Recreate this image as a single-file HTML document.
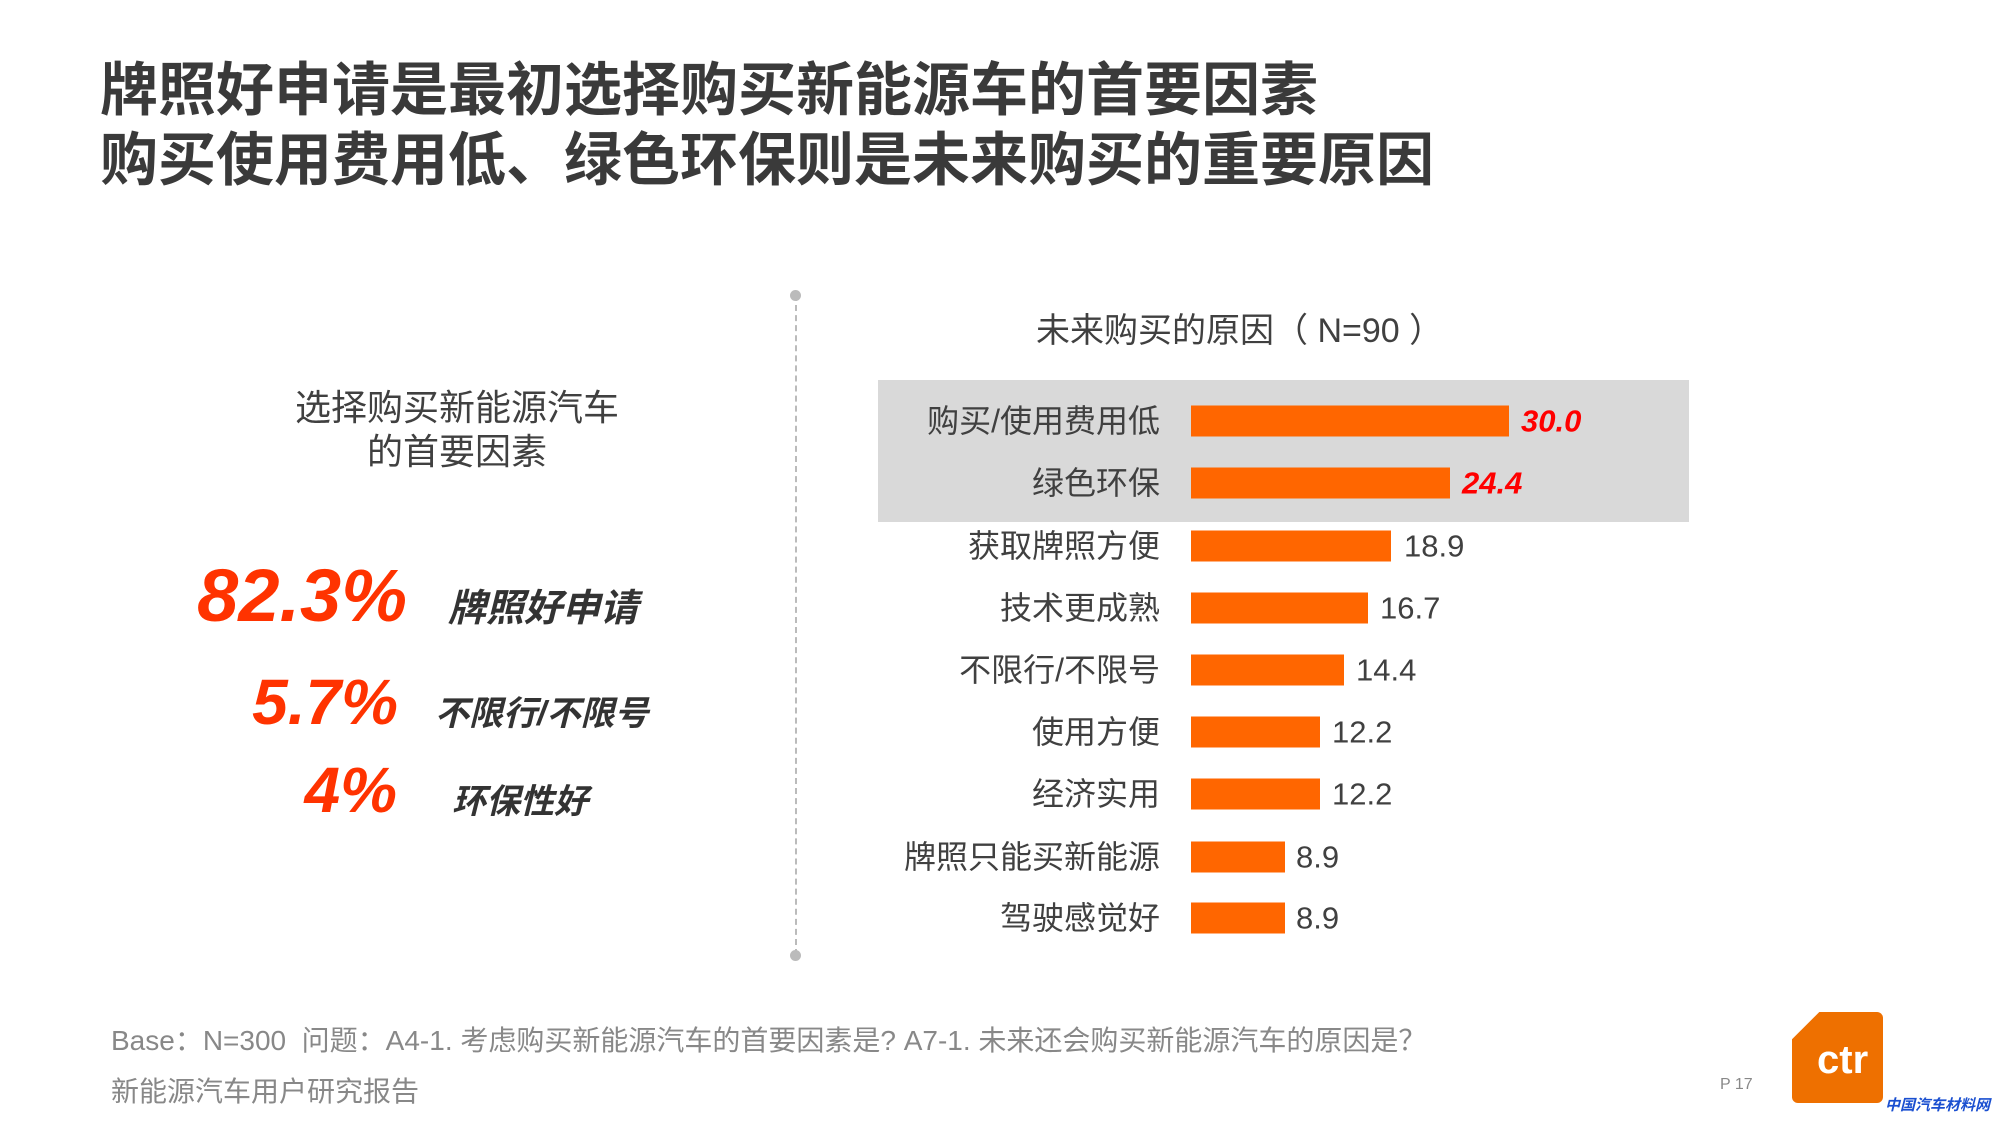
<!DOCTYPE html>
<html><head><meta charset="utf-8"><style>
body{margin:0;width:2000px;height:1125px;background:#fff;position:relative;overflow:hidden;font-family:"Liberation Sans","Noto Sans CJK SC",sans-serif;}
.a{position:absolute;white-space:nowrap;line-height:1;}
.t{font-weight:bold;font-size:58px;color:#3a3a3a;left:100px;}
.lbl{right:840px;font-size:32px;color:#404040;transform:translateY(-50%);}
.bar{position:absolute;left:1191px;height:31px;background:#ff6600;transform:translateY(-50%);}
.v{font-size:31px;color:#404040;transform:translateY(-50%);}
.vr{color:#ff0000;font-weight:bold;font-style:italic;}
.big{color:#ff3300;font-weight:bold;font-style:italic;transform:translateY(-50%);}
.it{color:#333;font-weight:bold;font-style:italic;transform:translateY(-50%);}
</style></head><body>
<div class="a t" style="top:62px">牌照好申请是最初选择购买新能源车的首要因素</div>
<div class="a t" style="top:132px">购买使用费用低、绿色环保则是未来购买的重要原因</div>
<div style="position:absolute;left:795px;top:295px;height:660px;border-left:2px dashed #bbb"></div>
<div style="position:absolute;left:790px;top:290px;width:11px;height:11px;border-radius:50%;background:#bbb"></div>
<div style="position:absolute;left:790px;top:950px;width:11px;height:11px;border-radius:50%;background:#bbb"></div>
<div class="a" style="left:1036px;top:314px;font-size:34px;color:#404040">未来购买的原因（ N=90 ）</div>
<div style="position:absolute;left:878px;top:380px;width:811px;height:142px;background:#d9d9d9"></div>

<div class="a lbl" style="top:421px">购买/使用费用低</div><div class="bar" style="top:421px;width:318px"></div><div class="a v vr" style="left:1521px;top:421px">30.0</div>
<div class="a lbl" style="top:483px">绿色环保</div><div class="bar" style="top:483px;width:259px"></div><div class="a v vr" style="left:1462px;top:483px">24.4</div>
<div class="a lbl" style="top:546px">获取牌照方便</div><div class="bar" style="top:546px;width:200px"></div><div class="a v" style="left:1404px;top:546px">18.9</div>
<div class="a lbl" style="top:608px">技术更成熟</div><div class="bar" style="top:608px;width:177px"></div><div class="a v" style="left:1380px;top:608px">16.7</div>
<div class="a lbl" style="top:670px">不限行/不限号</div><div class="bar" style="top:670px;width:153px"></div><div class="a v" style="left:1356px;top:670px">14.4</div>
<div class="a lbl" style="top:732px">使用方便</div><div class="bar" style="top:732px;width:129px"></div><div class="a v" style="left:1332px;top:732px">12.2</div>
<div class="a lbl" style="top:794px">经济实用</div><div class="bar" style="top:794px;width:129px"></div><div class="a v" style="left:1332px;top:794px">12.2</div>
<div class="a lbl" style="top:857px">牌照只能买新能源</div><div class="bar" style="top:857px;width:94px"></div><div class="a v" style="left:1296px;top:857px">8.9</div>
<div class="a lbl" style="top:918px">驾驶感觉好</div><div class="bar" style="top:918px;width:94px"></div><div class="a v" style="left:1296px;top:918px">8.9</div>

<div class="a" style="left:257px;width:400px;text-align:center;top:386px;font-size:36px;color:#404040;line-height:44px">选择购买新能源汽车<br>的首要因素</div>
<div class="a big" style="right:1593px;top:596px;font-size:74px">82.3%</div>
<div class="a it" style="left:448px;top:609px;font-size:38px">牌照好申请</div>
<div class="a big" style="right:1602px;top:702px;font-size:64px">5.7%</div>
<div class="a it" style="left:435px;top:714px;font-size:34px">不限行/不限号</div>
<div class="a big" style="right:1603px;top:790px;font-size:64px">4%</div>
<div class="a it" style="left:452px;top:802px;font-size:34px">环保性好</div>

<div class="a" style="left:111px;top:1027px;font-size:28px;color:#888">Base：N=300 &nbsp;问题：A4-1. 考虑购买新能源汽车的首要因素是? A7-1. 未来还会购买新能源汽车的原因是？</div>
<div class="a" style="left:111px;top:1078px;font-size:28px;color:#888">新能源汽车用户研究报告</div>
<div class="a" style="left:1720px;top:1077px;font-size:16px;color:#888">P 17</div>
<div style="position:absolute;left:1792px;top:1012px;width:91px;height:91px;background:#ee7000;border-radius:6px;clip-path:polygon(30% 0,100% 0,100% 100%,0 100%,0 30%)"></div>
<div class="a" style="left:1817px;top:1040px;font-size:40px;font-weight:bold;color:#fff">ctr</div>
<div class="a" style="left:1885px;top:1098px;font-size:15px;font-weight:bold;color:#1a4fd0;font-style:italic">中国汽车材料网</div>
</body></html>
